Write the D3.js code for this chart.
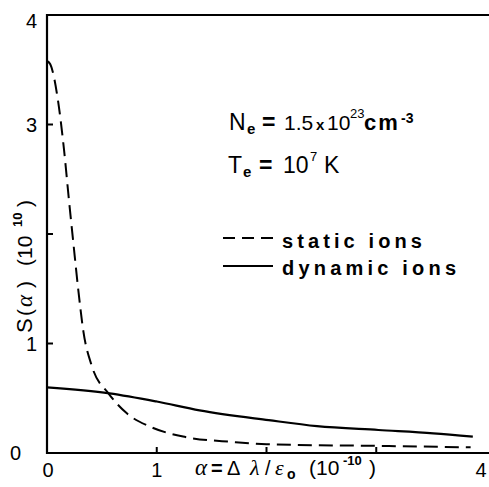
<!DOCTYPE html>
<html>
<head>
<meta charset="utf-8">
<script src="https://cdn.jsdelivr.net/npm/d3@7"></script>
<style>
  body { margin: 0; background: #fff; }
  svg { display: block; font-family: "Liberation Sans", Arial, sans-serif; }
</style>
</head>
<body>
<svg id="chart" width="489" height="487"></svg>
<script>
// values
let staticX = [0, 0.03, 0.1, 0.155, 0.2, 0.24, 0.285, 0.33, 0.41, 0.56, 0.73, 0.94, 1.24, 1.7, 2.0, 3.0, 3.86];
let staticY = [3.58, 3.55, 3.22, 2.77, 2.31, 1.92, 1.49, 1.12, 0.79, 0.545, 0.36, 0.24, 0.15, 0.10, 0.08, 0.065, 0.052];
let dynamicX = [0, 0.57, 1.0, 1.39, 2.02, 2.46, 3.02, 3.52, 3.88];
let dynamicY = [0.60, 0.545, 0.47, 0.39, 0.30, 0.245, 0.21, 0.18, 0.15];
let xTicks = [0, 1, 2, 3, 4];
let yTicks = [0, 1, 2, 3, 4];
let xTickLabels = ["0", "1", "", "", "4"];
let yTickLabels = ["0", "1", "", "3", "4"];

let svg = d3.select("#chart");

let x = d3.scaleLinear().domain([0, 4]).range([47, 486]);
let y = d3.scaleLinear().domain([0, 4]).range([453, 15]);

// frame: top, left, bottom
svg.append("path")
  .attr("d", "M489," + y(4) + "H" + x(0) + "V" + y(0) + "H489")
  .attr("fill", "none")
  .attr("stroke", "#000")
  .attr("stroke-width", 2.2);

// inward ticks
svg.selectAll(".ytick").data(yTicks.slice(1, 4)).enter()
  .append("line")
  .attr("x1", x(0)).attr("x2", x(0) + 6)
  .attr("y1", d => y(d)).attr("y2", d => y(d))
  .attr("stroke", "#000").attr("stroke-width", 2);

svg.selectAll(".xtick").data(xTicks.slice(1, 4)).enter()
  .append("line")
  .attr("x1", d => x(d)).attr("x2", d => x(d))
  .attr("y1", y(0)).attr("y2", y(0) - 6)
  .attr("stroke", "#000").attr("stroke-width", 2);

// tick labels
svg.selectAll(".ylab").data(yTicks).enter()
  .append("text")
  .attr("x", (d, i) => i == 0 ? 21 : 37)
  .attr("y", (d, i) => y(d) + (i == 4 ? 13 : 7))
  .attr("text-anchor", "end")
  .attr("font-size", 20)
  .text((d, i) => yTickLabels[i]);

svg.selectAll(".xlab").data(xTicks).enter()
  .append("text")
  .attr("x", (d, i) => i == 0 ? x(d) + 1 : (i == 4 ? x(d) - 5 : x(d)))
  .attr("y", 477)
  .attr("text-anchor", "middle")
  .attr("font-size", 20)
  .text((d, i) => xTickLabels[i]);

// curves
let line = d3.line()
  .x(d => x(d[0]))
  .y(d => y(d[1]))
  .curve(d3.curveMonotoneX);

svg.append("path")
  .datum(staticX.map((v, i) => [v, staticY[i]]))
  .attr("d", line)
  .attr("fill", "none")
  .attr("stroke", "#000")
  .attr("stroke-width", 2)
  .attr("stroke-dasharray", "14,7");

svg.append("path")
  .datum(dynamicX.map((v, i) => [v, dynamicY[i]]))
  .attr("d", line)
  .attr("fill", "none")
  .attr("stroke", "#000")
  .attr("stroke-width", 2.2);

// legend
svg.append("line")
  .attr("x1", 223).attr("x2", 273).attr("y1", 238).attr("y2", 238)
  .attr("stroke", "#000").attr("stroke-width", 2)
  .attr("stroke-dasharray", "12,7");
svg.append("line")
  .attr("x1", 223).attr("x2", 273).attr("y1", 266).attr("y2", 266)
  .attr("stroke", "#000").attr("stroke-width", 2.2);

svg.append("text")
  .attr("x", 282).attr("y", 248)
  .attr("font-size", 20).attr("font-weight", "bold")
  .attr("letter-spacing", 4.1)
  .text("static ions");
svg.append("text")
  .attr("x", 282).attr("y", 275)
  .attr("font-size", 20).attr("font-weight", "bold")
  .attr("letter-spacing", 4.2)
  .text("dynamic ions");

// helper: text made of pieces placed at given x
function pieces(g, parts) {
  parts.forEach(function(p) {
    g.append("tspan")
      .attr("x", p.x)
      .attr("y", p.y)
      .attr("font-size", p.size)
      .attr("font-weight", p.bold ? "bold" : null)
      .attr("font-style", p.italic ? "italic" : null)
      .attr("font-family", p.serif ? "Liberation Serif, serif" : null)
      .attr("letter-spacing", p.ls || null)
      .text(p.t);
  });
}

// plasma conditions
pieces(svg.append("text"), [
  {t: "N", x: 229, y: 130, size: 23},
  {t: "e", x: 247, y: 134, size: 15, bold: true},
  {t: "=", x: 262, y: 130, size: 23, bold: true},
  {t: "1.5", x: 284, y: 130, size: 21},
  {t: "x", x: 316, y: 130, size: 15, bold: true},
  {t: "10", x: 327, y: 130, size: 21},
  {t: "23", x: 350, y: 118, size: 13},
  {t: "cm", x: 364, y: 130, size: 22, bold: true, ls: 2},
  {t: "-3", x: 401, y: 123, size: 14, bold: true}
]);

pieces(svg.append("text"), [
  {t: "T", x: 228, y: 173, size: 23},
  {t: "e", x: 243, y: 177, size: 15, bold: true},
  {t: "=", x: 259, y: 173, size: 23, bold: true},
  {t: "10", x: 283, y: 173, size: 23},
  {t: "7", x: 310, y: 161, size: 13},
  {t: "K", x: 324, y: 173, size: 23}
]);

// axis titles
pieces(svg.append("text"), [
  {t: "α", x: 195, y: 475, size: 23, italic: true, serif: true},
  {t: "=", x: 211, y: 475, size: 20, bold: true},
  {t: "Δ", x: 227, y: 475, size: 20},
  {t: "λ", x: 250, y: 475, size: 22, italic: true, serif: true},
  {t: "/", x: 265, y: 475, size: 20},
  {t: "ε", x: 275, y: 475, size: 22, italic: true, serif: true},
  {t: "o", x: 287, y: 479, size: 14, bold: true},
  {t: "(10", x: 309, y: 475, size: 21},
  {t: "-10", x: 343, y: 465, size: 13, bold: true},
  {t: ")", x: 369, y: 475, size: 21}
]);

pieces(svg.append("text").attr("transform", "translate(32,333) rotate(-90)"), [
  {t: "S", x: 0, y: 0, size: 22},
  {t: "(", x: 17, y: 0, size: 21},
  {t: "α", x: 26, y: 0, size: 23, italic: true, serif: true},
  {t: ")", x: 45, y: 0, size: 21},
  {t: "(10", x: 67, y: 0, size: 21},
  {t: "10", x: 106, y: -10, size: 13, bold: true},
  {t: ")", x: 126, y: 0, size: 21}
]);
</script>
</body>
</html>
